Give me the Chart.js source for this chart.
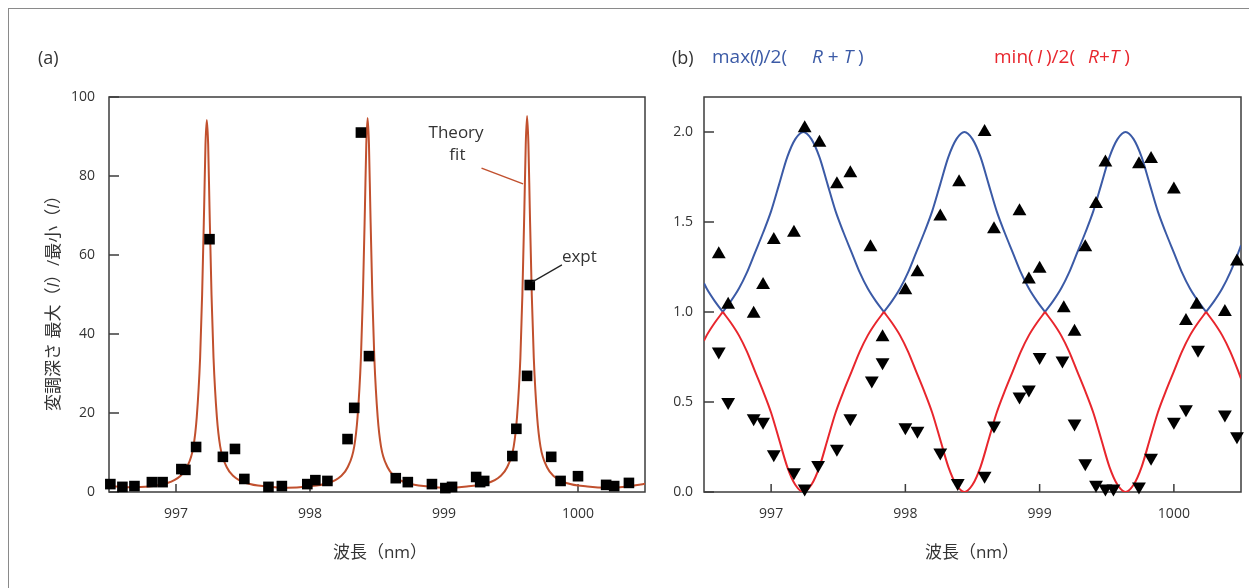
<!DOCTYPE html>
<html><head><meta charset="utf-8">
<script src="https://cdn.jsdelivr.net/npm/chart.js@4.4.0/dist/chart.umd.min.js"></script>
<style>
html,body{margin:0;padding:0;width:1249px;height:588px;overflow:hidden;background:#fff;font-family:'Open Sans','Noto Sans CJK JP',sans-serif;color:#333;}
#frame{position:absolute;left:8px;top:8px;width:1300px;height:700px;border:1px solid #8a8a8a;}
.lbl{position:absolute;white-space:nowrap;font-size:17px;line-height:1;}
.lg{position:absolute;white-space:nowrap;font-size:19px;line-height:1;top:47px;}
.ctr{transform:translate(-50%,-50%);}
#ca{position:absolute;left:0;top:0;}
#cb{position:absolute;left:620px;top:0;}
i{font-style:italic;}
</style></head><body>
<div id="frame"></div>
<canvas id="ca" width="660" height="588"></canvas>
<canvas id="cb" width="629" height="588"></canvas>
<div class="lg" style="left:38px;font-size:18px;top:48px;">(a)</div>
<div class="lg" style="left:672px;font-size:18px;top:48px;">(b)</div>
<div class="lg" style="left:712px;color:#3b5aa6">max(</div>
<div class="lg" style="left:754px;color:#3b5aa6"><i>I</i></div>
<div class="lg" style="left:758px;color:#3b5aa6">)/2(</div>
<div class="lg" style="left:812px;color:#3b5aa6"><i>R</i> + <i>T</i> )</div>
<div class="lg" style="left:994px;color:#e8262d">min(</div>
<div class="lg" style="left:1037px;color:#e8262d"><i>I</i></div>
<div class="lg" style="left:1046px;color:#e8262d">)/2(</div>
<div class="lg" style="left:1088px;color:#e8262d"><i>R</i>+<i>T</i> )</div>
<div class="lbl" style="left:52px;top:299px;transform:translate(-50%,-50%) rotate(-90deg);">変調深さ 最大（<i>I</i>）/最小（<i>I</i>）</div>
<div class="lbl ctr" style="left:380px;top:551px;">波長（nm）</div>
<div class="lbl ctr" style="left:972px;top:551px;">波長（nm）</div>
<script>
// ---------- Panel (a) data ----------
const aTickX = [997, 998, 999, 1000];
const aTickY = [0, 20, 40, 60, 80, 100];
const exptX = [996.51, 996.60, 996.69, 996.82, 996.90, 997.04, 997.07, 997.15, 997.25, 997.35, 997.44, 997.51, 997.69, 997.79, 997.98, 998.04, 998.13, 998.28, 998.33, 998.38, 998.44, 998.64, 998.73, 998.91, 999.01, 999.06, 999.24, 999.27, 999.30, 999.51, 999.54, 999.62, 999.64, 999.80, 999.87, 1000.00, 1000.21, 1000.27, 1000.38];
const exptY = [2.0, 1.3, 1.5, 2.5, 2.5, 5.8, 5.6, 11.4, 64, 8.9, 10.9, 3.3, 1.3, 1.5, 2.0, 3.0, 2.8, 13.4, 21.3, 91, 34.4, 3.5, 2.5, 2.0, 1.0, 1.3, 3.8, 2.5, 2.8, 9.1, 16, 29.4, 52.4, 8.9, 2.8, 4.0, 1.8, 1.5, 2.3];
const theoryX = [996.50, 996.65, 996.80,
  996.93, 997.03, 997.08, 997.13, 997.155, 997.18, 997.195, 997.21, 997.22, 997.23, 997.24, 997.25, 997.265, 997.28, 997.305, 997.33, 997.38, 997.43, 997.53, 997.68, 997.83,
  997.98,
  998.13, 998.23, 998.28, 998.33, 998.355, 998.38, 998.395, 998.41, 998.42, 998.43, 998.44, 998.45, 998.465, 998.48, 998.505, 998.53, 998.58, 998.63, 998.73, 998.88, 999.025,
  999.17,
  999.32, 999.42, 999.47, 999.52, 999.545, 999.57, 999.585, 999.60, 999.61, 999.62, 999.63, 999.64, 999.655, 999.67, 999.695, 999.72, 999.77, 999.82, 999.92, 1000.07, 1000.22,
  1000.37, 1000.50];
const theoryY = [1.5, 1.2, 1.4,
  2.2, 4.0, 6.2, 11.5, 19, 34, 50, 72, 88, 94.2, 88, 72, 50, 34, 19, 11.5, 6.2, 4.0, 2.2, 1.4, 1.1,
  1.4,
  2.2, 4.0, 6.2, 11.5, 19, 34, 50, 72, 88, 94.7, 88, 72, 50, 34, 19, 11.5, 6.2, 4.0, 2.2, 1.4, 1.1,
  1.4,
  2.2, 4.0, 6.2, 11.5, 19, 34, 50, 72, 88, 95.2, 88, 72, 50, 34, 19, 11.5, 6.2, 4.0, 2.2, 1.4, 1.1,
  1.4, 2.1];

// ---------- Panel (b) data ----------
const bTickX = [997, 998, 999, 1000];
const bTickY = [0.0, 0.5, 1.0, 1.5, 2.0];
const maxPtsX = [996.61, 996.68, 996.87, 996.94, 997.02, 997.17, 997.25, 997.36, 997.49, 997.59, 997.74, 997.83, 998.00, 998.09, 998.26, 998.40, 998.59, 998.66, 998.85, 998.92, 999.00, 999.18, 999.26, 999.34, 999.42, 999.49, 999.74, 999.83, 1000.00, 1000.09, 1000.17, 1000.38, 1000.47];
const maxPtsY = [1.32, 1.04, 0.99, 1.15, 1.40, 1.44, 2.02, 1.94, 1.71, 1.77, 1.36, 0.86, 1.12, 1.22, 1.53, 1.72, 2.00, 1.46, 1.56, 1.18, 1.24, 1.02, 0.89, 1.36, 1.60, 1.83, 1.82, 1.85, 1.68, 0.95, 1.04, 1.00, 1.28];
const minPtsX = [996.61, 996.68, 996.87, 996.94, 997.02, 997.17, 997.25, 997.35, 997.49, 997.59, 997.75, 997.83, 998.00, 998.09, 998.26, 998.39, 998.59, 998.66, 998.85, 998.92, 999.00, 999.17, 999.26, 999.34, 999.42, 999.49, 999.55, 999.74, 999.83, 1000.00, 1000.09, 1000.18, 1000.38, 1000.47];
const minPtsY = [0.78, 0.50, 0.41, 0.39, 0.21, 0.11, 0.02, 0.15, 0.24, 0.41, 0.62, 0.72, 0.36, 0.34, 0.22, 0.05, 0.09, 0.37, 0.53, 0.57, 0.75, 0.73, 0.38, 0.16, 0.04, 0.02, 0.02, 0.03, 0.19, 0.39, 0.46, 0.79, 0.43, 0.31];
const curveX = [996.50, 996.52, 996.58, 996.64,
  996.70, 996.76, 996.82, 996.88, 996.94, 997.00, 997.06, 997.12, 997.18, 997.24,
  997.30, 997.36, 997.42, 997.48, 997.54, 997.60, 997.66, 997.72, 997.78, 997.84,
  997.90, 997.96, 998.02, 998.08, 998.14, 998.20, 998.26, 998.32, 998.38, 998.44,
  998.50, 998.56, 998.62, 998.68, 998.74, 998.80, 998.86, 998.92, 998.98, 999.04,
  999.10, 999.16, 999.22, 999.28, 999.34, 999.40, 999.46, 999.52, 999.58, 999.64,
  999.70, 999.76, 999.82, 999.88, 999.94, 1000.00, 1000.06, 1000.12, 1000.18, 1000.24,
  1000.30, 1000.36, 1000.42, 1000.48, 1000.50];
const maxCurve = [1.16, 1.13, 1.06, 1.00,
  1.06, 1.13, 1.22, 1.33, 1.44, 1.56, 1.71, 1.86, 1.96, 2.00,
  1.96, 1.86, 1.71, 1.56, 1.44, 1.33, 1.22, 1.13, 1.06, 1.00,
  1.06, 1.13, 1.22, 1.33, 1.44, 1.56, 1.71, 1.86, 1.96, 2.00,
  1.96, 1.86, 1.71, 1.56, 1.44, 1.33, 1.22, 1.13, 1.06, 1.00,
  1.06, 1.13, 1.22, 1.33, 1.44, 1.56, 1.71, 1.86, 1.96, 2.00,
  1.96, 1.86, 1.71, 1.56, 1.44, 1.33, 1.22, 1.13, 1.06, 1.00,
  1.06, 1.13, 1.22, 1.33, 1.37];
const minCurve = [0.84, 0.87, 0.94, 1.00,
  0.94, 0.87, 0.78, 0.67, 0.56, 0.44, 0.29, 0.14, 0.04, 0.00,
  0.04, 0.14, 0.29, 0.44, 0.56, 0.67, 0.78, 0.87, 0.94, 1.00,
  0.94, 0.87, 0.78, 0.67, 0.56, 0.44, 0.29, 0.14, 0.04, 0.00,
  0.04, 0.14, 0.29, 0.44, 0.56, 0.67, 0.78, 0.87, 0.94, 1.00,
  0.94, 0.87, 0.78, 0.67, 0.56, 0.44, 0.29, 0.14, 0.04, 0.00,
  0.04, 0.14, 0.29, 0.44, 0.56, 0.67, 0.78, 0.87, 0.94, 1.00,
  0.94, 0.87, 0.78, 0.67, 0.63];

// ---------- helpers ----------
const pts = (xs, ys) => xs.map((x, i) => ({x, y: ys[i]}));
// split a curve into arcs at its cusps so each arc is smooth but cusps stay sharp
function arcs(xs, ys, isCusp) {
  const out = []; let cur = [];
  xs.forEach((x, i) => {
    cur.push({x, y: ys[i]});
    if (i > 0 && i < xs.length - 1 && isCusp(ys[i - 1], ys[i], ys[i + 1])) { out.push(cur); cur = [{x, y: ys[i]}]; }
  });
  out.push(cur);
  return out;
}

Chart.defaults.font.family = "'Open Sans','Noto Sans CJK JP',sans-serif";
Chart.defaults.color = '#333';

const framePlugin = {
  id: 'frame',
  beforeDatasetsDraw(chart) {
    const {ctx, chartArea: {left, right, top, bottom}, scales: {x, y}} = chart;
    ctx.save();
    ctx.strokeStyle = '#3c3c3c'; ctx.lineWidth = 1.5;
    ctx.strokeRect(left, top, right - left, bottom - top);
    ctx.beginPath();
    x.ticks.forEach(t => { const px = x.getPixelForValue(t.value); ctx.moveTo(px, bottom); ctx.lineTo(px, bottom - 8); });
    y.ticks.forEach(t => { const py = y.getPixelForValue(t.value); ctx.moveTo(left, py); ctx.lineTo(left + 10, py); });
    ctx.stroke();
    ctx.restore();
  }
};

const notes = {
  theory: {x: 999.09, y: 90.9, text: 'Theory'},
  fit: {x: 999.10, y: 85.3, text: 'fit'},
  expt: {x: 1000.01, y: 59.5, text: 'expt'},
  theoryLine: [[999.28, 82.0], [999.59, 78.0]],
  exptLine: [[999.66, 53.2], [999.88, 57.5]]
};
const notesPlugin = {
  id: 'notes',
  afterDatasetsDraw(chart) {
    const {ctx, scales: {x, y}} = chart;
    ctx.save();
    ctx.font = "17px 'Open Sans', sans-serif";
    ctx.fillStyle = '#333'; ctx.textAlign = 'center'; ctx.textBaseline = 'middle';
    [notes.theory, notes.fit, notes.expt].forEach(n => ctx.fillText(n.text, x.getPixelForValue(n.x), y.getPixelForValue(n.y)));
    const line = (seg, color, w) => {
      ctx.beginPath(); ctx.strokeStyle = color; ctx.lineWidth = w;
      ctx.moveTo(x.getPixelForValue(seg[0][0]), y.getPixelForValue(seg[0][1]));
      ctx.lineTo(x.getPixelForValue(seg[1][0]), y.getPixelForValue(seg[1][1]));
      ctx.stroke();
    };
    line(notes.theoryLine, '#c1502e', 1.5);
    line(notes.exptLine, '#222', 1.2);
    ctx.restore();
  }
};

function axes(xmin, xmax, ymin, ymax, tx, ty, fmt, yPad) {
  return {
    x: {type: 'linear', min: xmin, max: xmax,
      grid: {display: false, drawTicks: false}, border: {display: false},
      afterBuildTicks: s => { s.ticks = tx.map(v => ({value: v})); },
      afterFit: s => { s.height = 40; },
      ticks: {padding: 14, color: '#333', font: {size: 14}, maxRotation: 0, autoSkip: false, callback: v => String(v)}},
    y: {type: 'linear', min: ymin, max: ymax,
      grid: {display: false, drawTicks: false}, border: {display: false},
      afterBuildTicks: s => { s.ticks = ty.map(v => ({value: v})); },
      afterFit: s => { s.width = 50; },
      ticks: {padding: yPad, color: '#333', font: {size: 14}, autoSkip: false, callback: fmt}}
  };
}

new Chart(document.getElementById('ca'), {
  type: 'scatter',
  data: {datasets: [
    {label: 'Theory fit', data: pts(theoryX, theoryY), showLine: true, borderColor: '#c1502e', borderWidth: 2,
     pointRadius: 0, cubicInterpolationMode: 'monotone', order: 2},
    {label: 'expt', data: pts(exptX, exptY), pointStyle: 'rect', pointRadius: 7.5, backgroundColor: '#000',
     borderColor: '#000', borderWidth: 0, clip: false, order: 1}
  ]},
  options: {
    responsive: false, animation: false, devicePixelRatio: 1,
    layout: {padding: {left: 59, right: 15, top: 97, bottom: 56}},
    plugins: {legend: {display: false}, tooltip: {enabled: false}},
    scales: axes(996.5, 1000.5, 0, 100, aTickX, aTickY, v => String(v), 14)
  },
  plugins: [framePlugin, notesPlugin]
});

const blueArcs = arcs(curveX, maxCurve, (a, b, c) => b <= a && b <= c);
const redArcs = arcs(curveX, minCurve, (a, b, c) => b >= a && b >= c);
const bSets = [];
blueArcs.forEach(d => bSets.push({data: d, showLine: true, borderColor: '#3b5aa6', borderWidth: 2, pointRadius: 0, cubicInterpolationMode: 'monotone', order: 3}));
redArcs.forEach(d => bSets.push({data: d, showLine: true, borderColor: '#e8262d', borderWidth: 2, pointRadius: 0, cubicInterpolationMode: 'monotone', order: 2}));
bSets.push({data: pts(maxPtsX, maxPtsY), pointStyle: 'triangle', pointRadius: 8, backgroundColor: '#000', borderWidth: 0, clip: false, order: 1});
bSets.push({data: pts(minPtsX, minPtsY), pointStyle: 'triangle', rotation: 180, pointRadius: 8, backgroundColor: '#000', borderWidth: 0, clip: false, order: 1});

new Chart(document.getElementById('cb'), {
  type: 'scatter',
  data: {datasets: bSets},
  options: {
    responsive: false, animation: false, devicePixelRatio: 1,
    layout: {padding: {left: 34, right: 8, top: 97, bottom: 56}},
    plugins: {legend: {display: false}, tooltip: {enabled: false}},
    scales: axes(996.5, 1000.5, 0, 2.194, bTickX, bTickY, v => Number(v).toFixed(1), 11)
  },
  plugins: [framePlugin]
});
</script>
</body></html>
